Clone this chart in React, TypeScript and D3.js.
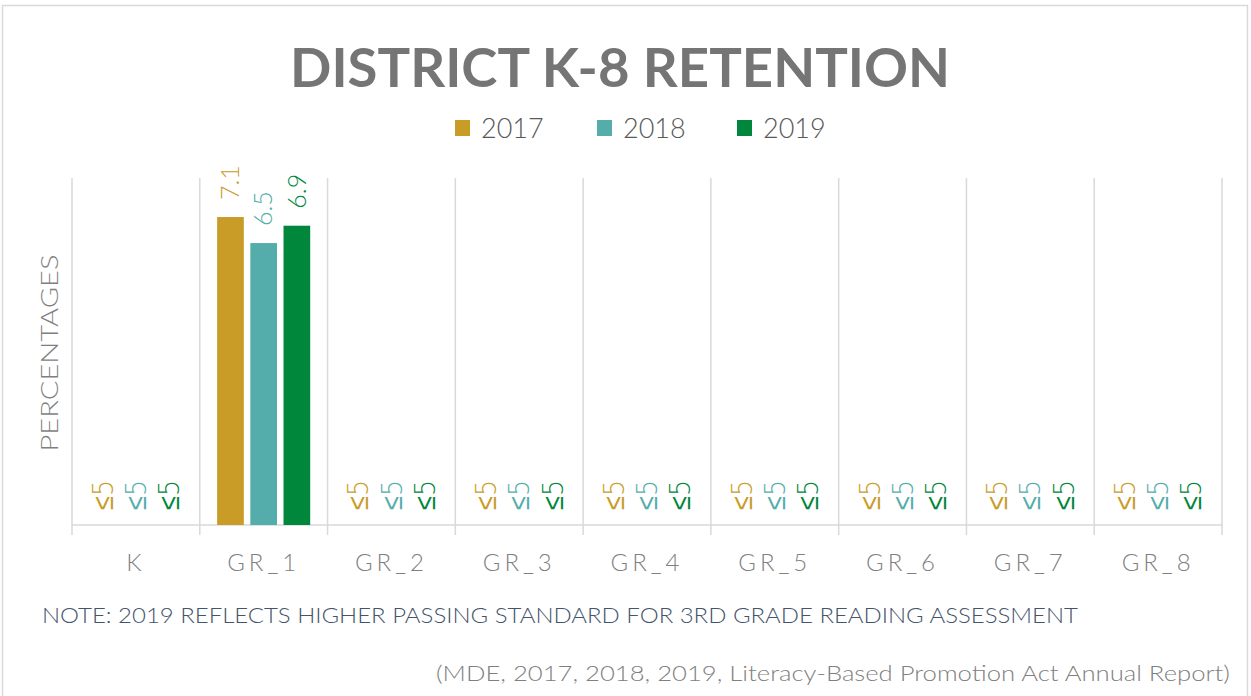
import { scaleBand, scaleLinear, scaleOrdinal } from "d3";

const GRADES = ["K", "GR_1", "GR_2", "GR_3", "GR_4", "GR_5", "GR_6", "GR_7", "GR_8"];
const YEARS = ["2017", "2018", "2019"];
// null = suppressed value, shown as "≤5"
const V2017 = [null, 7.1, null, null, null, null, null, null, null];
const V2018 = [null, 6.5, null, null, null, null, null, null, null];
const V2019 = [null, 6.9, null, null, null, null, null, null, null];
const SERIES = [V2017, V2018, V2019];
const SUPPRESSED = "≤5";

const W = 1251;
const H = 696;
const M = { left: 72, right: 1222, top: 178, bottom: 525 };
const FONT = "'Lato', 'Open Sans', sans-serif";

const color = scaleOrdinal<string>().domain(YEARS).range(["#C99C28", "#55ADAB", "#00873C"]);

export default function App() {
  const x = scaleBand<string>().domain(GRADES).range([M.left, M.right]);
  const xi = scaleBand<string>()
    .domain(YEARS)
    .range([0, x.bandwidth()])
    .paddingInner(0.196)
    .paddingOuter(0.523);
  const y = scaleLinear().domain([0, 8]).range([M.bottom, M.top]);

  const bounds = GRADES.map((g) => x(g) as number).concat([M.right]);

  return (
    <svg
      width={W}
      height={H}
      style={{ position: "absolute", left: 0, top: 0, background: "#fff" }}
      fontFamily={FONT}
    >
      <rect x={2.5} y={5.5} width={1245} height={700} fill="#fff" stroke="#d9d9d9" strokeWidth={1.5} />

      {/* title */}
      <text
        x={620}
        y={87}
        textAnchor="middle"
        fontSize={54}
        fontWeight={700}
        fill="#757575"
        textLength={660}
        lengthAdjust="spacingAndGlyphs"
      >
        DISTRICT K-8 RETENTION
      </text>

      {/* legend */}
      {YEARS.map((yr, i) => {
        const lx = [455, 597, 737][i];
        return (
          <g key={yr}>
            <rect x={lx} y={120} width={15} height={16} fill={color(yr)} />
            <text x={lx + 26} y={138} fontSize={27} fontWeight={300} fill="#595959">
              {yr}
            </text>
          </g>
        );
      })}

      {/* gridlines */}
      {bounds.map((bx, i) => (
        <g key={i}>
          <line x1={bx} x2={bx} y1={M.top} y2={M.bottom} stroke="#d9d9d9" strokeWidth={1.5} />
          <line x1={bx} x2={bx} y1={M.bottom} y2={M.bottom + 10} stroke="#d9d9d9" strokeWidth={1.5} />
        </g>
      ))}
      <line x1={M.left} x2={M.right} y1={M.bottom} y2={M.bottom} stroke="#d9d9d9" strokeWidth={1.5} />

      {/* bars + labels */}
      {GRADES.map((g, gi) => (
        <g key={g} transform={`translate(${x(g)},0)`}>
          {YEARS.map((yr, si) => {
            const v = SERIES[si][gi];
            const bx = xi(yr) as number;
            const cx = bx + xi.bandwidth() / 2;
            const ly = v == null ? M.bottom - 15 : y(v) - 17;
            return (
              <g key={yr}>
                {v != null && (
                  <rect x={bx} y={y(v)} width={xi.bandwidth()} height={M.bottom - y(v)} fill={color(yr)} />
                )}
                <text
                  transform={`translate(${cx},${ly}) rotate(-90)`}
                  dy="0.35em"
                  fontSize={v == null ? 29 : 25}
                  fontWeight={300}
                  fill={color(yr)}
                  fontFamily={v == null ? "'DejaVu Sans', sans-serif" : FONT}
                  textLength={v == null ? 30 : undefined}
                  lengthAdjust="spacingAndGlyphs"
                >
                  {v == null ? SUPPRESSED : v.toFixed(1)}
                </text>
              </g>
            );
          })}
          <text
            x={x.bandwidth() / 2}
            y={571}
            textAnchor="middle"
            fontSize={24}
            fontWeight={300}
            fill="#808080"
            letterSpacing={4}
          >
            {g}
          </text>
        </g>
      ))}

      {/* y axis title */}
      <text
        transform="translate(58,353) rotate(-90)"
        textAnchor="middle"
        fontSize={23}
        fontWeight={300}
        fill="#7f7f7f"
        textLength={197}
        lengthAdjust="spacingAndGlyphs"
      >
        PERCENTAGES
      </text>

      {/* note */}
      <text
        x={42}
        y={623}
        fontSize={21}
        fontWeight={300}
        fill="#44546A"
        textLength={1036}
        lengthAdjust="spacingAndGlyphs"
      >
        NOTE: 2019 REFLECTS HIGHER PASSING STANDARD FOR 3RD GRADE READING ASSESSMENT
      </text>

      {/* source */}
      <text
        x={1230}
        y={681}
        textAnchor="end"
        fontSize={22}
        fontWeight={300}
        fill="#808080"
        textLength={794}
        lengthAdjust="spacingAndGlyphs"
      >
        (MDE, 2017, 2018, 2019, Literacy-Based Promotion Act Annual Report)
      </text>
    </svg>
  );
}
